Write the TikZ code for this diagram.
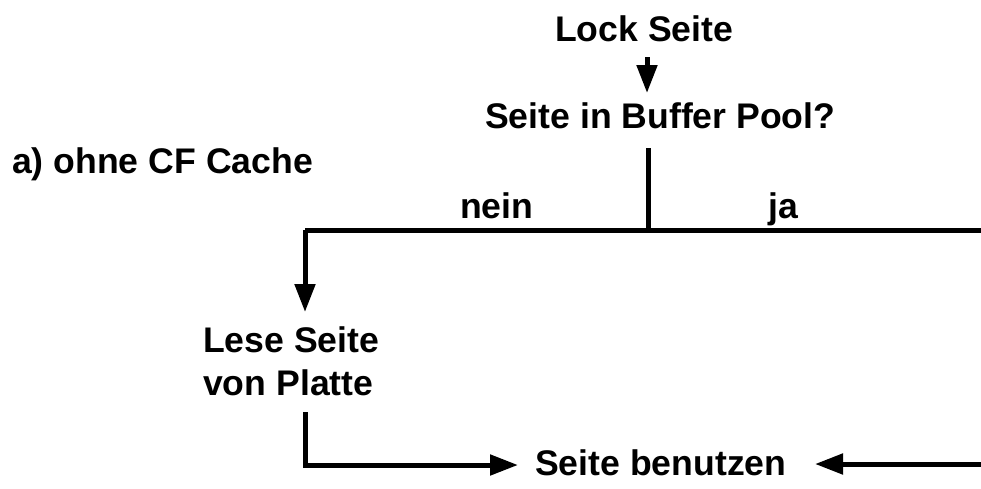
\documentclass[tikz,border=0pt]{standalone}
\usepackage{fontspec}
\setmainfont{Liberation Sans}
\usetikzlibrary{arrows.meta}
\begin{document}
\begin{tikzpicture}[x=1pt,y=-1pt,
  lbl/.style={inner sep=0pt,anchor=base west,font=\fontsize{35.6}{43}\selectfont\bfseries},
  conn/.style={line width=5pt,line join=miter},
  arr/.style={conn,-{Triangle[length=28pt,width=20pt]}}]
\useasboundingbox (0,0) rectangle (981,488);
\node[lbl] (lock) at (555,41) {Lock Seite};
\node[lbl] (q) at (485,128) {Seite in Buffer Pool?};
\node[lbl] (a) at (12,173) {a) ohne CF Cache};
\node[lbl] (nein) at (460,218) {nein};
\node[lbl] (ja) at (768,218) {ja};
\node[lbl] (lese) at (203,352) {Lese Seite};
\node[lbl] (platte) at (203,395) {von Platte};
\node[lbl] (ben) at (535,475) {Seite benutzen};
\coordinate (l1) at (647,57);
\coordinate (l2) at (647,93);
\coordinate (q1) at (648,148);
\coordinate (j) at (648,230);
\coordinate (jl) at (305,230);
\coordinate (jr) at (984,230);
\coordinate (d1) at (305,312);
\coordinate (p1) at (305,412);
\coordinate (p2) at (305,465);
\coordinate (b1) at (518,465);
\coordinate (r1) at (984,464);
\coordinate (b2) at (815,464);
\draw[arr] (l1) -- (l2);
\draw[conn] (q1) -- (j);
\draw[conn] (jr) -- (jl);
\draw[arr] (jl) -- (d1);
\draw[arr] (p1) -- (p2) -- (b1);
\draw[arr] (r1) -- (b2);
\end{tikzpicture}
\end{document}
